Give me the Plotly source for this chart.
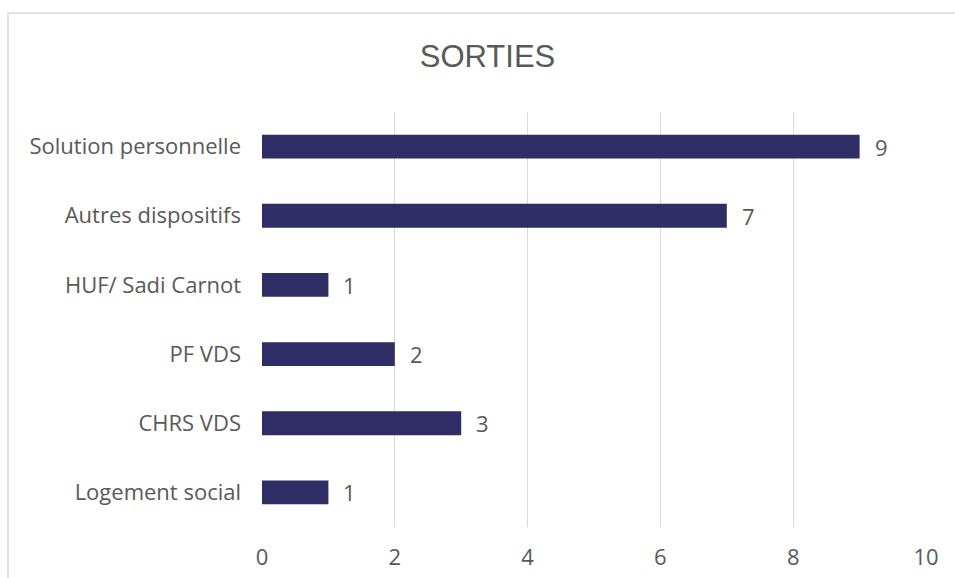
import plotly.graph_objects as go

categories = ["Solution personnelle", "Autres dispositifs", "HUF/ Sadi Carnot", "PF VDS", "CHRS VDS", "Logement social"]
values = [9, 7, 1, 2, 3, 1]
x_ticks = [0, 2, 4, 6, 8, 10]

bar_color = "#2E2D66"
text_color = "#595959"
font_family = "Open Sans, Liberation Sans, sans-serif"

fig = go.Figure()
fig.add_trace(go.Bar(
    y=categories,
    x=values,
    orientation="h",
    marker=dict(color=bar_color, line=dict(width=0)),
    hoverinfo="skip",
))

for c, v in zip(categories, values):
    fig.add_annotation(x=v, y=c, text=str(v), showarrow=False, xanchor="left",
                       xshift=13, font=dict(size=22, color=text_color, family=font_family))

# chart border
fig.add_shape(type="rect", xref="paper", yref="paper",
              x0=(8 - 262) / 664, x1=(965 - 262) / 664,
              y0=(527 - 590) / 415, y1=(527 - 13) / 415,
              line=dict(color="#D9D9D9", width=1.5), fillcolor="rgba(0,0,0,0)", layer="below")

fig.update_layout(
    width=955, height=578,
    margin=dict(l=262, r=29, t=112, b=51, autoexpand=False),
    paper_bgcolor="white", plot_bgcolor="white",
    title=dict(text="SORTIES", x=487.5 / 955, xanchor="center", y=1 - 56 / 578, yanchor="middle",
               font=dict(size=31, color=text_color, family="Liberation Sans, Arial, sans-serif")),
    bargap=0.655,
    showlegend=False,
    font=dict(family=font_family, color=text_color, size=22),
)
fig.update_xaxes(range=[0, 10], tickvals=x_ticks, showgrid=True, gridcolor="#D9D9D9", gridwidth=1.3,
                 zeroline=False, showline=False, ticks="", ticklabelstandoff=15, automargin=False,
                 tickfont=dict(size=22, color=text_color))
fig.update_yaxes(autorange="reversed", categoryorder="array", categoryarray=categories,
                 showgrid=False, zeroline=False, showline=False, ticks="", ticklabelstandoff=20,
                 automargin=False, tickfont=dict(size=22, color=text_color))

fig.write_html("out.html")
